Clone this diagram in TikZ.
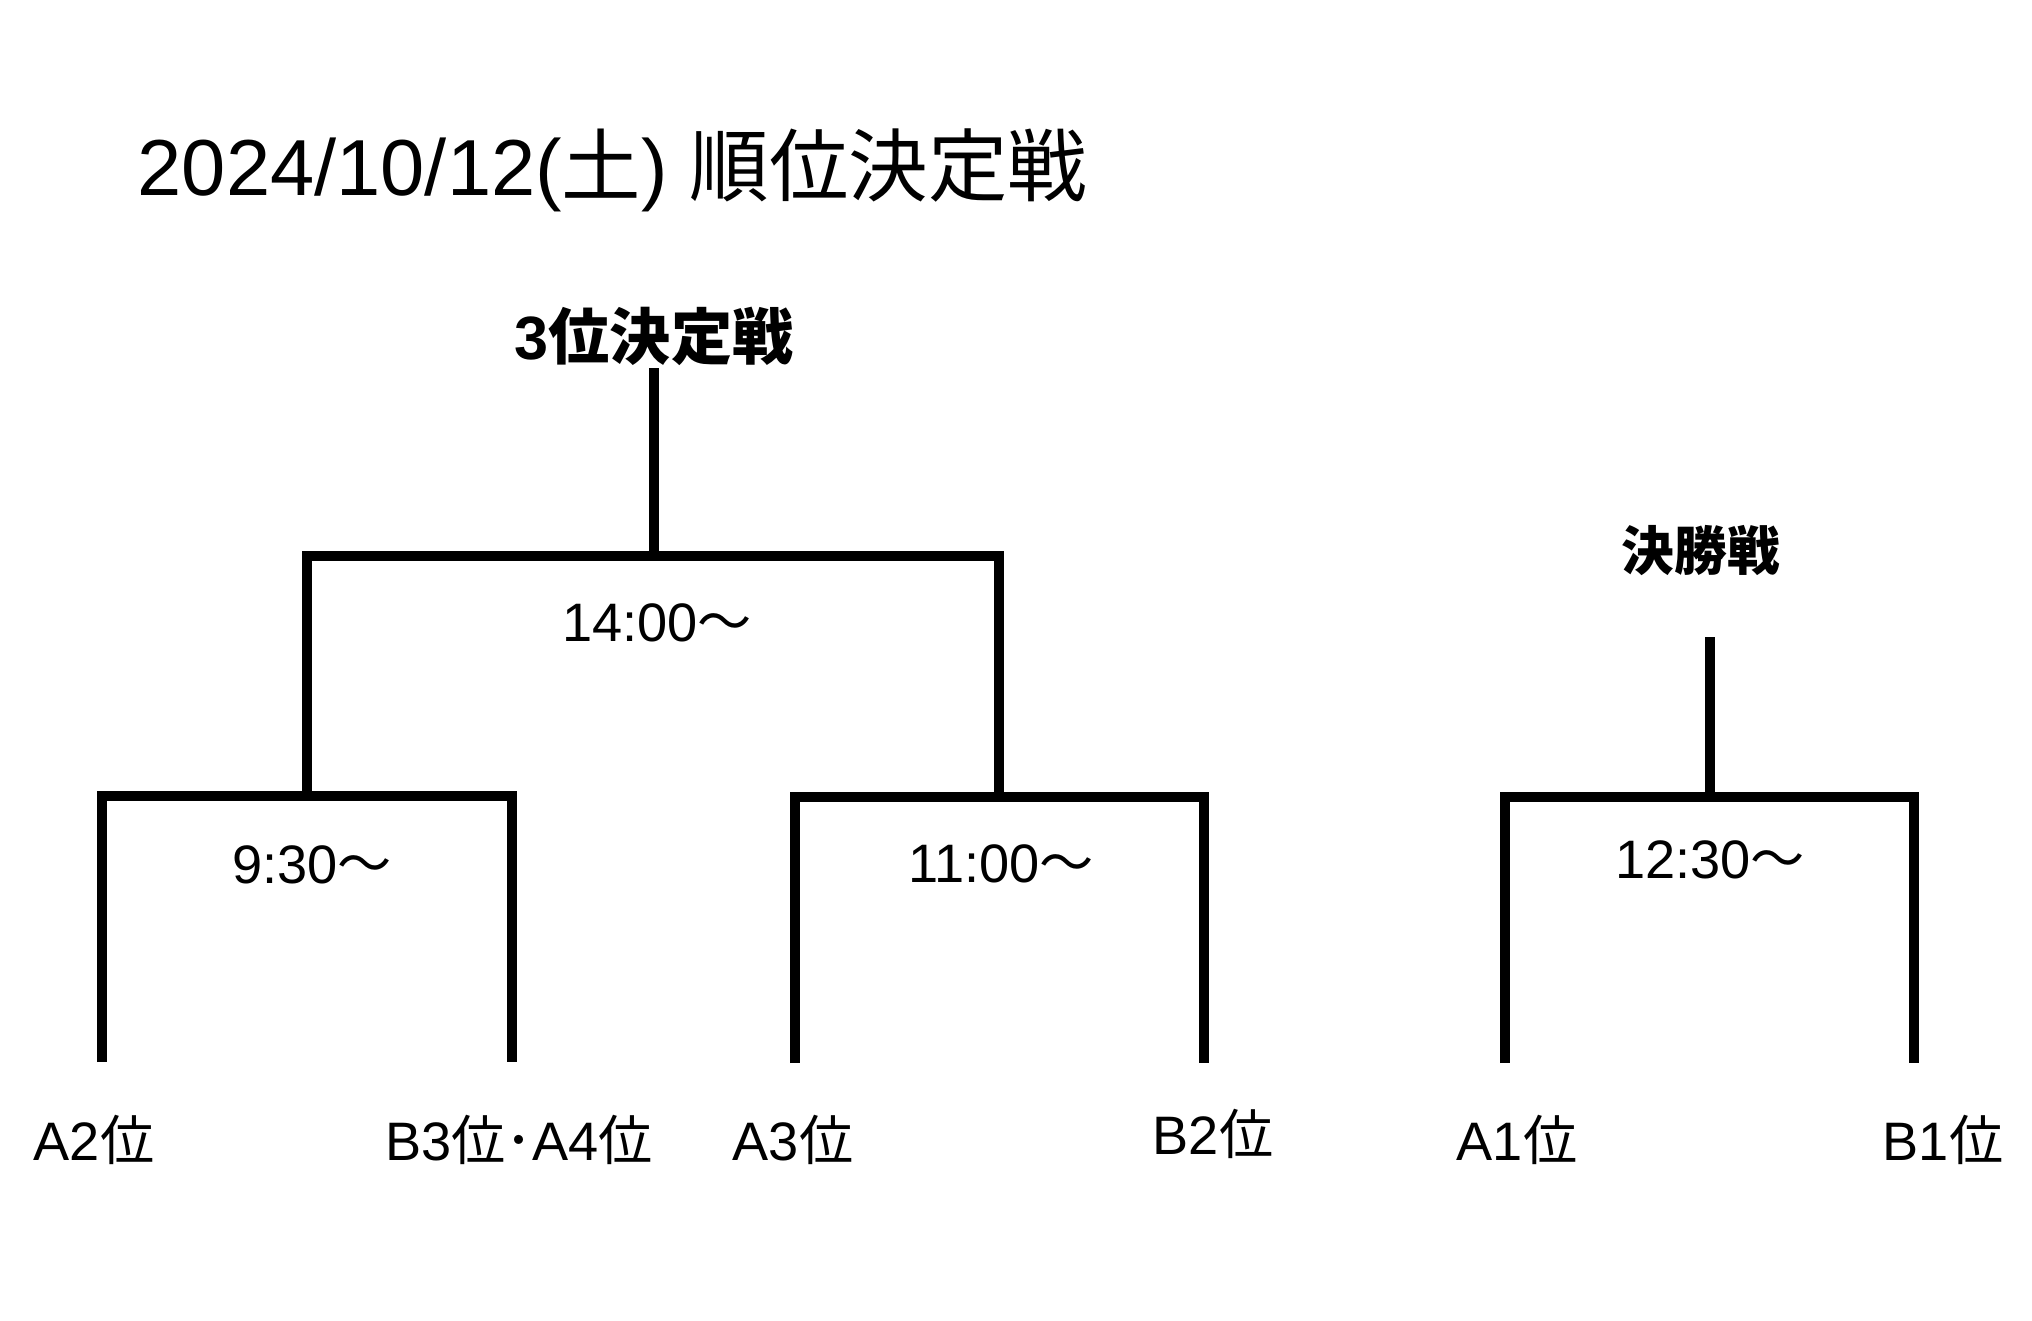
\documentclass[tikz,border=0pt]{standalone}
\usepackage{fontspec}
\setmainfont{Liberation Sans}
\newfontfamily\jp{Noto Sans CJK JP}
\begin{document}
\begin{tikzpicture}[x=0.01cm,y=-0.01cm,
  bracket/.style={line width=2.7pt,line cap=butt,line join=miter},
  lbl/.style={inner sep=0pt,anchor=base,font=\fontsize{15.4}{18}\selectfont},
  ttl/.style={inner sep=0pt,anchor=base west,font=\fontsize{22.6}{26}\selectfont},
  hd/.style={inner sep=0pt,font=\bfseries\fontsize{17.4}{20}\selectfont},
  hdb/.style={inner sep=0pt,font=\bfseries\fontsize{15}{18}\selectfont}]
\useasboundingbox[fill=white] (0,0) rectangle (2032,1321);

% title
\node[ttl] (title) at (137,195) {2024/10/12({\jp 土}) {\jp 順位決定戦}};

% headings
\node[hd] (third) at (654,336) {3{\jp 位決定戦}};
\node[hdb] (final) at (1701,551) {\jp 決勝戦};

% bracket coordinates
\coordinate (t3top) at (654,368);
\coordinate (t3mid) at (654,556);
\coordinate (t3L) at (307,556);
\coordinate (t3R) at (999,556);
\coordinate (s1top) at (307,796);
\coordinate (s1L) at (102,1062);
\coordinate (s1R) at (512,1062);
\coordinate (s2top) at (999,797);
\coordinate (s2L) at (795,1063);
\coordinate (s2R) at (1204,1063);
\coordinate (ftop) at (1710,637);
\coordinate (fmid) at (1710,797);
\coordinate (fL) at (1505,1063);
\coordinate (fR) at (1914,1063);

% brackets
\draw[bracket] (t3top) -- (t3mid);
\draw[bracket] (t3L |- s1top) |- (t3mid) -| (t3R |- s2top);
\draw[bracket] (s1L) |- (s1top) -| (s1R);
\draw[bracket] (s2L) |- (s2top) -| (s2R);
\draw[bracket] (ftop) -- (fmid);
\draw[bracket] (fL) |- (fmid) -| (fR);

% times
\node[lbl] (m3) at (657,641) {14:00{\jp ～}};
\node[lbl] (m1) at (312,883) {9:30{\jp ～}};
\node[lbl] (m2) at (1001,882) {11:00{\jp ～}};
\node[lbl] (mf) at (1710,878) {12:30{\jp ～}};

% teams
\node[lbl] (a2) at (94,1160) {A2{\jp 位}};
\node[lbl] (b3) at (519,1160) {B3{\jp 位･}A4{\jp 位}};
\node[lbl] (a3) at (793,1160) {A3{\jp 位}};
\node[lbl] (b2) at (1213,1154) {B2{\jp 位}};
\node[lbl] (a1) at (1517,1160) {A1{\jp 位}};
\node[lbl] (b1) at (1943,1160) {B1{\jp 位}};
\end{tikzpicture}
\end{document}
